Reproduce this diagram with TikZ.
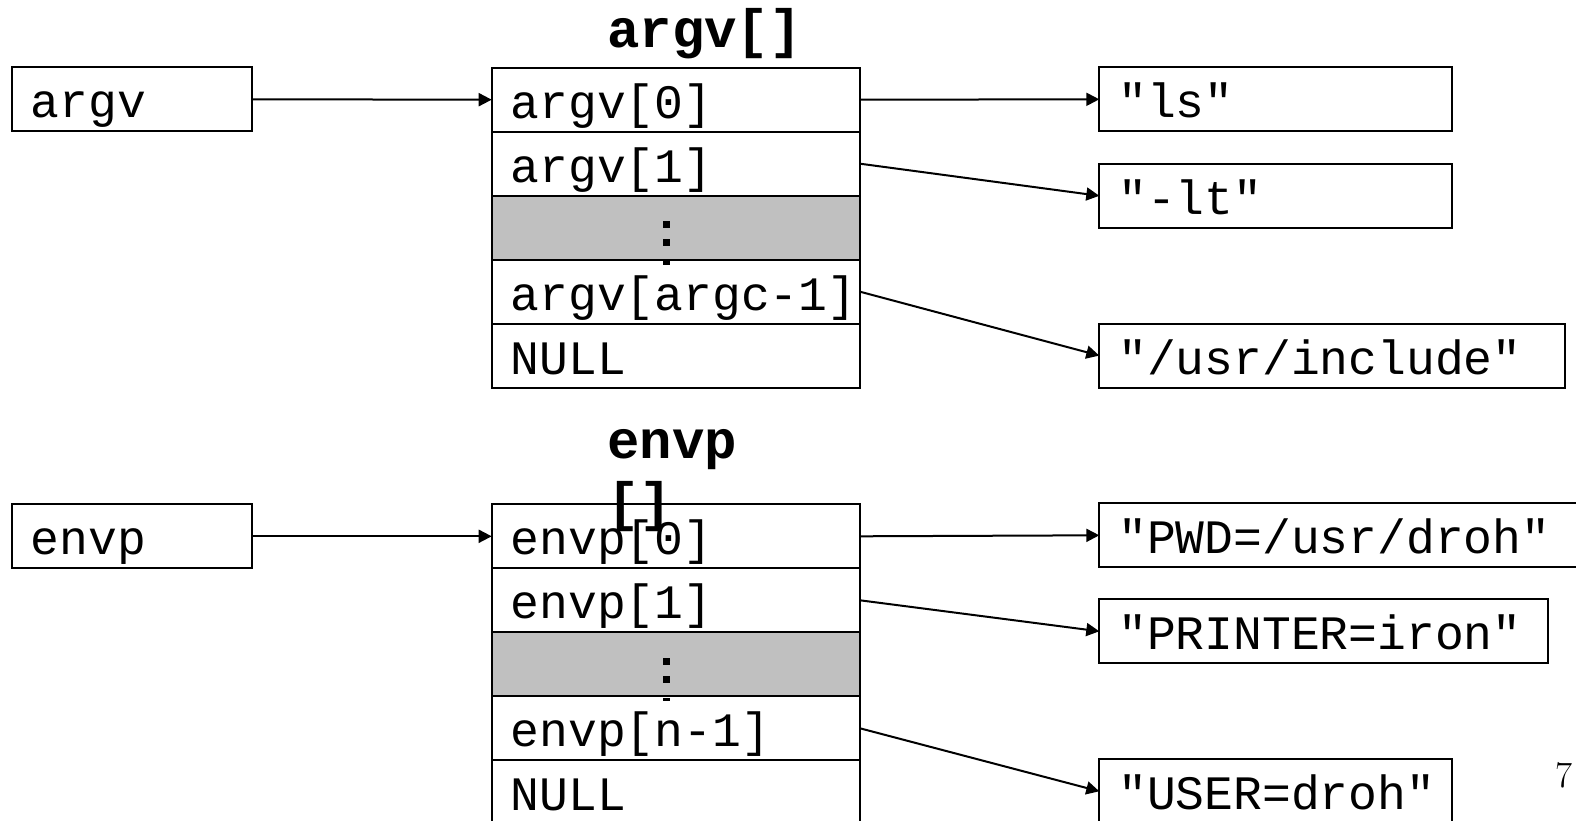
\documentclass[tikz,border=0pt]{standalone}
\usepackage{fontspec}
\setmonofont{Liberation Mono}
\usetikzlibrary{arrows.meta}
\definecolor{silverg}{HTML}{C0C0C0}
\tikzset{
  box/.style={draw, line width=2.2pt, anchor=north west, outer sep=0pt,
    minimum height=64pt, inner xsep=19pt, inner ysep=0pt,
    text height=45pt, text depth=8pt, align=left,
    font=\ttfamily\fontsize{48}{56}\selectfont},
  grayrow/.style={box, fill=silverg},
  arr/.style={line width=2pt, -{Triangle[length=13pt,width=13pt]}},
  titletxt/.style={anchor=base west, inner sep=0pt,
    font=\ttfamily\bfseries\fontsize{54}{62}\selectfont},
}
\begin{document}
\begin{tikzpicture}[x=1pt,y=-1pt]
\useasboundingbox (0,0) rectangle (1576,821);
\clip (0,0) rectangle (1576,821);

% argv array
\node[box, text width=330.3pt] (argv0) at (491.7,67.7) {argv[0]};
\node[box, text width=330.3pt] (argv1) at (491.7,131.7) {argv[1]};
\node[grayrow, text width=330.3pt] (argvd) at (491.7,195.7) {};
\node[box, text width=330.3pt] (argvn) at (491.7,259.7) {\mbox{argv[argc-1]}};
\node[box, text width=330.3pt] (argvnull) at (491.7,323.7) {NULL};
\fill (662.5,220.8) rectangle (669.5,227.8);
\fill (662.5,239) rectangle (669.5,246);
\fill (662.5,261.2) rectangle (669.5,265.2);

% envp array
\node[box, text width=330.3pt] (envp0) at (491.7,504.3) {envp[0]};
\node[box, text width=330.3pt] (envp1) at (491.7,568.3) {envp[1]};
\node[grayrow, text width=330.3pt] (envpd) at (491.7,632.3) {};
\node[box, text width=330.3pt] (envpn) at (491.7,696.3) {envp[n-1]};
\node[box, text width=330.3pt] (envpnull) at (491.7,760.3) {NULL};
\fill (662.5,657.8) rectangle (669.5,664.8);
\fill (662.5,675.5) rectangle (669.5,682.5);
\fill (662.5,697.6) rectangle (669.5,701);

% titles
\node[titletxt] (argvtitle) at (607,48) {argv[]};
\node[titletxt] (envptitle) at (607,458) {envp};
\node[titletxt] (envptitlebr) at (607,520) {[]};

% pointer boxes
\node[box, text width=202pt] (argvp) at (11.7,67.3) {argv};
\node[box, text width=202pt] (envpp) at (11.7,504.3) {envp};

% string boxes
\node[box, text width=314.7pt] (ls) at (1099.3,67.3) {"ls"};
\node[box, text width=314.7pt] (lt) at (1099.3,163.8) {"-lt"};
\node[box, text width=427.7pt] (usr) at (1099.3,323.6) {"/usr/include"};
\node[box, text width=444pt] (pwd) at (1099.3,503.3) {"PWD=/usr/droh"};
\node[box, text width=410.4pt] (printer) at (1099.3,599.3) {"PRINTER=iron"};
\node[box, text width=315pt] (user) at (1099.3,759.3) {"USER=droh"};

% connectors
\draw[arr] (argvp.east) -- (argv0.west);
\draw[arr] (argv0.east) -- (ls.west);
\draw[arr] (argv1.east) -- (lt.west);
\draw[arr] (argvn.east) -- (usr.west);
\draw[arr] (envpp.east) -- (envp0.west);
\draw[arr] (envp0.east) -- (pwd.west);
\draw[arr] (envp1.east) -- (printer.west);
\draw[arr] (envpn.east) -- (user.west);

% page number
\node[anchor=base west, inner sep=0pt, font=\fontsize{37}{40}\selectfont] (pagenum) at (1555,787) {7};
\end{tikzpicture}
\end{document}
